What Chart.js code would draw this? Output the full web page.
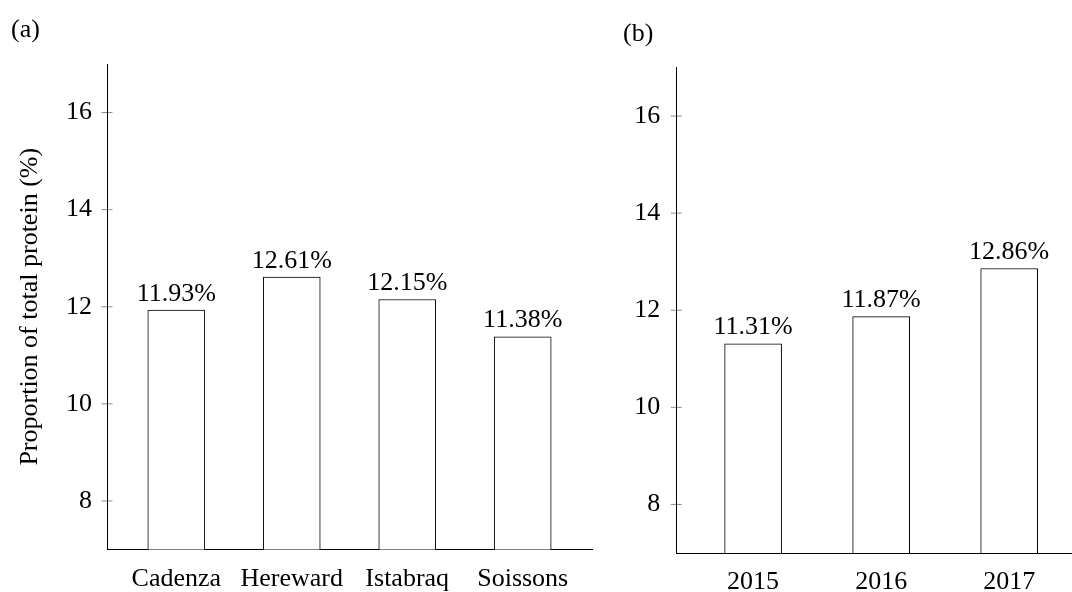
<!DOCTYPE html>
<html>
<head>
<meta charset="utf-8">
<script src="https://cdn.jsdelivr.net/npm/chart.js@4.4.1/dist/chart.umd.min.js"></script>
<style>
  html, body { margin: 0; padding: 0; background: #fff; overflow: hidden; width: 1072px; height: 592px; }
  .panel { position: absolute; top: 0; height: 592px; }
  #panelA { left: 0; width: 600px; }
  #panelB { left: 560px; width: 540px; }
</style>
</head>
<body>
<div class="panel" id="panelA"><canvas id="chartA"></canvas></div>
<div class="panel" id="panelB"><canvas id="chartB"></canvas></div>
<script>
// Protein content by cultivar and by harvest year
const cultivars = ['Cadenza', 'Hereward', 'Istabraq', 'Soissons'];
const cultivarProtein = [11.93, 12.61, 12.15, 11.38];
const years = ['2015', '2016', '2017'];
const yearProtein = [11.31, 11.87, 12.86];
const yTicks = [8, 10, 12, 14, 16];
const yMin = 7;
const yMax = 17;
const yTitle = 'Proportion of total protein (%)';
const panelNames = ['(a)', '(b)'];

const FONT_FAMILY = "'Liberation Serif', 'Times New Roman', serif";
const FONT = { family: FONT_FAMILY, size: 26, lineHeight: 1.2 };

// Crossing tick marks on the y axis, value labels over bars, panel letter
const decorations = {
  id: 'decorations',
  beforeDraw(chart) {
    const ctx = chart.ctx;
    const ys = chart.scales.y;
    ctx.save();
    ctx.strokeStyle = '#8c8c8c';
    ctx.lineWidth = 1;
    ys.ticks.forEach(t => {
      const p = ys.getPixelForValue(t.value);
      ctx.beginPath();
      ctx.moveTo(ys.right - 5.5, p);
      ctx.lineTo(ys.right + 5.5, p);
      ctx.stroke();
    });
    ctx.restore();
  },
  afterDatasetsDraw(chart) {
    const ctx = chart.ctx;
    const meta = chart.getDatasetMeta(0);
    const points = chart.data.datasets[0].data;
    ctx.save();
    ctx.font = FONT.size + 'px ' + FONT_FAMILY;
    ctx.fillStyle = '#000';
    ctx.textAlign = 'center';
    ctx.textBaseline = 'alphabetic';
    meta.data.forEach((bar, i) => {
      ctx.fillText(points[i].y.toFixed(2) + '%', bar.x, bar.y - 9.5);
    });
    ctx.restore();
  },
  afterDraw(chart, args, opts) {
    const ctx = chart.ctx;
    ctx.save();
    ctx.font = FONT.size + 'px ' + FONT_FAMILY;
    ctx.fillStyle = '#000';
    ctx.textAlign = 'left';
    ctx.textBaseline = 'alphabetic';
    ctx.fillText(opts.label, opts.x, opts.y);
    ctx.restore();
  }
};

function makeChart(canvasId, labels, values, cfg) {
  return new Chart(document.getElementById(canvasId), {
    type: 'bar',
    data: {
      datasets: [{
        data: values.map((v, i) => ({ x: i, y: v })),
        backgroundColor: '#ffffff',
        borderColor: '#000000',
        borderWidth: 1,
        borderSkipped: false,
        barThickness: 57
      }]
    },
    plugins: [decorations],
    options: {
      responsive: true,
      maintainAspectRatio: false,
      animation: false,
      devicePixelRatio: 1,
      layout: { padding: cfg.padding, autoPadding: false },
      plugins: {
        legend: { display: false },
        tooltip: { enabled: false },
        decorations: cfg.panel
      },
      scales: {
        x: {
          type: 'linear',
          offset: false,
          min: -0.6,
          max: labels.length - 0.4,
          afterBuildTicks: s => { s.ticks = labels.map((l, i) => ({ value: i })); },
          afterFit: s => { s.height = cfg.xHeight; },
          grid: { display: true, drawOnChartArea: false, drawTicks: false, offset: false },
          border: { display: true, color: '#000', width: 1 },
          ticks: {
            callback: v => labels[v],
            autoSkip: false,
            maxRotation: 0,
            minRotation: 0,
            padding: 14,
            font: FONT,
            color: '#000'
          }
        },
        y: {
          type: 'linear',
          min: yMin,
          max: yMax,
          beginAtZero: false,
          afterBuildTicks: s => { s.ticks = yTicks.map(v => ({ value: v })); },
          afterFit: s => { s.width = cfg.yWidth; },
          grid: { display: true, drawOnChartArea: false, drawTicks: false },
          border: { display: true, color: '#000', width: 1 },
          ticks: { padding: cfg.yPad, font: FONT, color: '#000' },
          title: {
            display: cfg.showTitle,
            text: yTitle,
            font: FONT,
            color: '#000',
            padding: { top: 14.5, bottom: 0 }
          }
        }
      }
    }
  });
}

makeChart('chartA', cultivars, cultivarProtein, {
  padding: { left: 0, top: 64, right: 8, bottom: 0 },
  xHeight: 42.5,
  yWidth: 107,
  yPad: 15,
  showTitle: true,
  panel: { label: panelNames[0], x: 11, y: 36.5 }
});

makeChart('chartB', years, yearProtein, {
  padding: { left: 0, top: 67.5, right: 14, bottom: 0 },
  xHeight: 39,
  yWidth: 116.3,
  yPad: 16,
  showTitle: false,
  panel: { label: panelNames[1], x: 63, y: 40.5 }
});
</script>
</body>
</html>
